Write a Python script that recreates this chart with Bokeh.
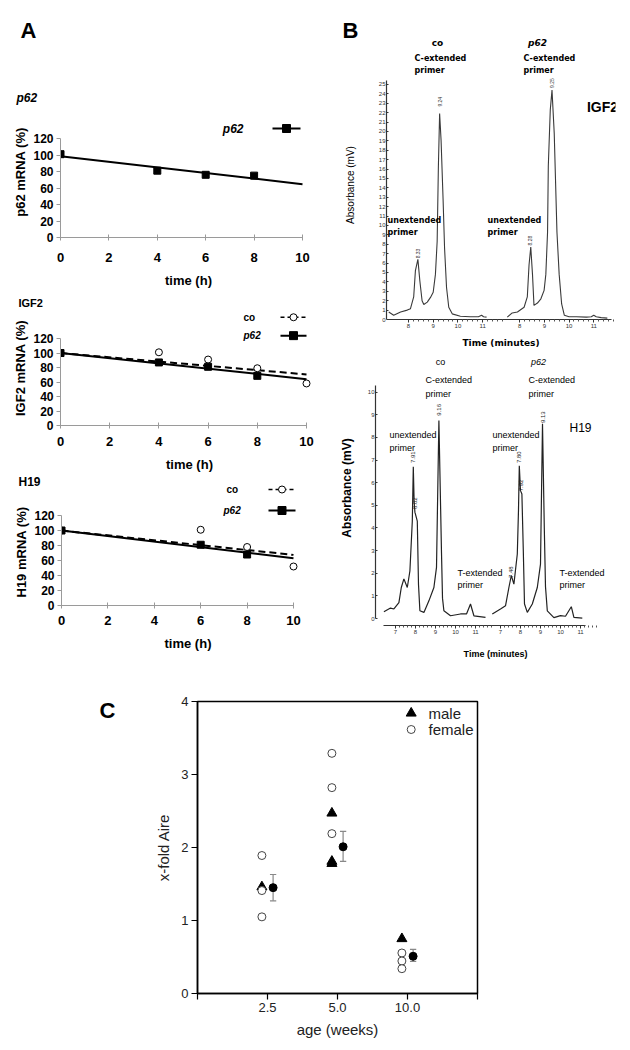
import numpy as np
from math import pi
from bokeh.plotting import figure
from bokeh.models import Range1d, Label, FixedTicker
from bokeh.layouts import column, row
from bokeh.embed import file_html
from bokeh.resources import INLINE

# ---------------- Panel A data (mRNA %, time in h) ----------------
a_time_ticks = [0, 2, 4, 6, 8, 10]
a_pct_ticks = [0, 20, 40, 60, 80, 100, 120]
p62_t = [0, 4, 6, 8]
p62_pct = [101, 81, 76, 75]
igf2_co_t = [0, 4, 6, 8, 10]
igf2_co_pct = [100, 101, 91, 79, 58]
igf2_p62_t = [0, 4, 6, 8]
igf2_p62_pct = [100, 87, 81, 68.5]
h19_co_t = [0, 6, 8, 10]
h19_co_pct = [100, 101, 78, 52]
h19_p62_t = [0, 6, 8]
h19_p62_pct = [100, 81, 68]

# ---------------- Panel B data (chromatograms: minutes, mV) ----------------
igf2_co_min = [7.20, 7.40, 7.68, 7.95, 8.08, 8.21, 8.28, 8.38, 8.46, 8.55, 8.62, 8.76, 8.89, 9.00, 9.09,
               9.16, 9.21, 9.26, 9.32, 9.40, 9.46, 9.54, 9.63, 9.77, 10.1, 10.5, 10.83, 10.96, 11.04, 11.16]
igf2_co_mv = [0.8, 0.45, 0.8, 1.0, 1.15, 2.4, 5.2, 6.4, 4.1, 2.0, 1.6, 1.85, 2.35, 2.9, 4.8,
              8.3, 16.3, 21.9, 19.0, 12.8, 7.6, 3.4, 1.3, 0.6, 0.35, 0.3, 0.3, 0.45, 0.3, 0.25]
igf2_p62_min = [7.50, 7.70, 7.91, 8.18, 8.31, 8.38, 8.45, 8.52, 8.58, 8.72, 8.86, 8.99, 9.06, 9.13, 9.16,
                9.24, 9.31, 9.40, 9.51, 9.60, 9.70, 9.81, 10.0, 10.3, 10.7, 10.9, 11.0, 11.1, 11.3, 11.55]
igf2_p62_mv = [0.25, 0.7, 0.8, 1.3, 2.4, 5.8, 7.7, 4.8, 1.5, 1.75, 2.2, 3.1, 4.8, 9.3, 16.3,
               22.3, 24.4, 19.8, 9.3, 4.8, 1.65, 0.45, 0.3, 0.3, 0.25, 0.3, 0.45, 0.3, 0.2, 0.15]
h19_co_min = [6.42, 6.75, 6.92, 7.17, 7.29, 7.42, 7.59, 7.72, 7.84, 7.89, 7.93, 7.97, 8.03, 8.09, 8.15,
              8.22, 8.42, 8.67, 8.92, 9.05, 9.17, 9.30, 9.35, 9.42, 9.75, 10.25, 10.55, 10.75, 10.92, 11.50]
h19_co_mv = [0.3, 0.46, 0.42, 0.7, 1.37, 1.75, 1.37, 2.1, 4.3, 6.7, 5.2, 4.7, 4.5, 4.3, 1.5,
             0.34, 0.27, 0.78, 1.37, 2.26, 8.75, 2.9, 0.9, 0.34, 0.12, 0.2, 0.2, 0.64, 0.12, 0.05]
h19_p62_min = [6.59, 7.00, 7.25, 7.42, 7.54, 7.67, 7.84, 7.90, 7.94, 8.00, 8.07, 8.14, 8.20, 8.34,
               8.59, 8.84, 9.00, 9.10, 9.19, 9.25, 9.34, 9.67, 10.00, 10.25, 10.54, 10.67, 11.09]
h19_p62_mv = [0.2, 0.42, 0.56, 1.37, 1.9, 1.52, 2.85, 4.8, 6.75, 5.65, 5.5, 3.0, 0.64, 0.27,
              0.64, 1.37, 2.4, 8.6, 4.0, 1.4, 0.34, 0.04, 0.13, 0.1, 0.52, 0.05, 0.02]
b_igf2_mv_ticks = list(range(0, 26))
b_h19_mv_ticks = list(range(0, 11))
b_min_ticks_top = [8, 9, 10, 11]
b_min_ticks_bottom = [7, 8, 9, 10, 11]

# ---------------- Panel C data ----------------
ages = ["2.5", "5.0", "10.0"]
male_age_idx = [0, 1, 1, 1, 2]
male_fold = [1.46, 2.47, 1.81, 1.78, 0.75]
female_age_idx = [0, 0, 0, 1, 1, 1, 2, 2, 2]
female_fold = [1.89, 1.41, 1.05, 3.29, 2.82, 2.19, 0.555, 0.445, 0.34]
mean_fold = [1.45, 2.01, 0.51]
mean_lo = [1.27, 1.81, 0.44]
mean_hi = [1.63, 2.22, 0.605]
c_fold_ticks = [0, 1, 2, 3, 4]

SANS = "Liberation Sans"
DJV = "DejaVu Sans"


class Panel:
    """A figure placed at window pixel box (wx, wy, w, h) whose frame spans L..R, T..B."""

    def __init__(self, wx, wy, w, h, L=None, R=None, T=None, B=None, xr=(0, 1), yr=(0, 1), axes=True):
        if not axes:
            L, R, T, B = wx, wx + w, wy, wy + h
        self.L, self.R, self.T, self.B = L, R, T, B
        self.xr, self.yr = xr, yr
        kw = {}
        if not axes:
            kw = dict(x_axis_location=None, y_axis_location=None)
        self.p = figure(width=w, height=h, x_range=Range1d(*xr), y_range=Range1d(*yr),
                        output_backend="svg", toolbar_location=None,
                        min_border_left=L - wx, min_border_right=wx + w - R,
                        min_border_top=T - wy, min_border_bottom=wy + h - B, **kw)
        self.p.frame_align = False
        self.p.grid.visible = False
        self.p.outline_line_color = None
        self.p.background_fill_color = "white"
        self.p.border_fill_color = "white"

    def at(self, px, py):
        x0, x1 = self.xr
        y0, y1 = self.yr
        return (x0 + (px - self.L) * (x1 - x0) / (self.R - self.L),
                y0 + (self.B - py) * (y1 - y0) / (self.B - self.T))

    def lab(self, px, py, text, size, font=SANS, style="normal", align="left",
            baseline="middle", angle=0.0, color="black"):
        x, y = self.at(px, py)
        self.p.add_layout(Label(x=x, y=y, text=text, text_font=font, text_font_size=f"{size}px",
                                text_font_style=style, text_align=align, text_baseline=baseline,
                                angle=angle, text_color=color))


def fit_line(t, y):
    c = np.polyfit(t, y, 1)
    return c[1], c[0]


def fit_from_start(t, y):
    t = np.asarray(t, float)
    y = np.asarray(y, float)
    s = np.sum(t * (y - y[0])) / np.sum(t * t)
    return y[0], s


def style_a(pan, xstand, ylabel, xlab_stand, ylab_stand):
    p = pan.p
    xa, ya = p.xaxis[0], p.yaxis[0]
    xa.ticker = FixedTicker(ticks=a_time_ticks)
    ya.ticker = FixedTicker(ticks=a_pct_ticks)
    xa.bounds = (0, 10)
    ya.bounds = (0, 120)
    for ax in (xa, ya):
        ax.axis_line_color = "#9a9a9a"
        ax.major_tick_line_color = "#9a9a9a"
        ax.minor_tick_line_color = None
        ax.major_label_text_font = SANS
        ax.major_label_text_font_style = "bold"
        ax.major_label_text_color = "black"
        ax.axis_label_text_font = SANS
        ax.axis_label_text_font_style = "bold"
        ax.axis_label_text_color = "black"
    xa.major_tick_in = 3
    xa.major_tick_out = 3
    ya.major_tick_in = 0
    ya.major_tick_out = 4
    xa.major_label_text_font_size = "13px"
    ya.major_label_text_font_size = "12px"
    xa.major_label_standoff = xstand
    ya.major_label_standoff = 3
    xa.axis_label = "time (h)"
    xa.axis_label_text_font_size = "13px"
    xa.axis_label_standoff = xlab_stand
    ya.axis_label = ylabel
    ya.axis_label_text_font_size = "13px"
    ya.axis_label_standoff = ylab_stand


def a_plot(pan, series):
    p = pan.p
    tline = np.array([0.0, 10.0])
    for (t, y, kind, fit) in series:
        a, s = fit(t, y)
        if kind == "co":
            p.line(tline, a + s * tline, line_color="black", line_width=2, line_dash="7 4")
        else:
            p.line(tline, a + s * tline, line_color="black", line_width=2)
    for (t, y, kind, fit) in series:
        if kind == "co":
            p.scatter(t, y, marker="circle", size=7, fill_color="white", line_color="black", line_width=1)
        else:
            p.scatter(t, y, marker="square", size=7, fill_color="black", line_color="black")


def legend_entry(pan, text, style, size, lx, ly, k0, k1, kind, align="left"):
    """Legend row with the label to the left of its key, as in the source figure."""
    p = pan.p
    pan.lab(lx, ly, text, size, font=SANS, style=style, align=align)
    xa, ya = pan.at(k0, ly)
    xb, _ = pan.at(k1, ly)
    xm, _ = pan.at((k0 + k1) / 2, ly)
    if kind == "co":
        p.line([xa, xb], [ya, ya], line_color="black", line_width=1.5, line_dash="4 3")
        p.scatter([xm], [ya], marker="circle", size=7, fill_color="white", line_color="black")
    else:
        p.line([xa, xb], [ya, ya], line_color="black", line_width=2)
        p.scatter([xm], [ya], marker="square", size=8, fill_color="black", line_color="black")


# ---------------- A1: p62 ----------------
A1s = Panel(0, 0, 328, 106, axes=False)
A1s.lab(28, 30, "A", 22, style="bold", align="center")
A1s.lab(16, 97, "p62", 12, style="bold italic")
A1 = Panel(0, 106, 328, 186, 60, 316, 106, 237, (0, 256 / 24.2), (0, 131 / 0.825))
style_a(A1, 12, "p62 mRNA (%)", 8, 2)
a_plot(A1, [(p62_t, p62_pct, "p62", fit_line)])
legend_entry(A1, "p62", "bold italic", 12, 243, 128, 272, 300, "p62", align="right")

# ---------------- A2: IGF2 ----------------
A2s = Panel(0, 292, 328, 18, axes=False)
A2s.lab(18, 302, "IGF2", 11, style="bold")
A2 = Panel(0, 310, 328, 164, 60, 318, 310, 429, (0, 258 / 24.6), (0, 119 / 0.75))
style_a(A2, 8, "IGF2 mRNA (%)", 8, 2)
a_plot(A2, [(igf2_co_t, igf2_co_pct, "co", fit_from_start),
            (igf2_p62_t, igf2_p62_pct, "p62", fit_from_start)])
legend_entry(A2, "co", "bold", 10, 243, 317, 280, 306, "co")
legend_entry(A2, "p62", "bold italic", 10, 243, 336, 280, 306, "p62")

# ---------------- A3: H19 ----------------
A3s = Panel(0, 474, 328, 24, axes=False)
A3s.lab(18, 481, "H19", 12, style="bold")
legend_entry(A3s, "co", "bold", 10, 226, 489, 268, 295, "co")
A3 = Panel(0, 498, 328, 174, 61, 314, 498, 605, (0, 253 / 23.2), (0, 107 / 0.75))
style_a(A3, 7, "H19 mRNA (%)", 8, 2)
a_plot(A3, [(h19_co_t, h19_co_pct, "co", fit_from_start),
            (h19_p62_t, h19_p62_pct, "p62", fit_from_start)])
legend_entry(A3, "p62", "bold italic", 10, 223, 510, 268, 295, "p62")


def style_b(pan, yticks, ybounds, xticks, xlabels, xbounds, ystand, xstand,
            ylabel, ylab_size, ylab_style, ylab_stand, xlab_font, xlab_size, xlab_stand):
    p = pan.p
    xa, ya = p.xaxis[0], p.yaxis[0]
    ya.ticker = FixedTicker(ticks=yticks)
    ya.bounds = ybounds
    minors = []
    for base in xticks:
        minors += [base + k * 0.2 for k in range(1, 5)]
    xa.ticker = FixedTicker(ticks=xticks, minor_ticks=minors)
    xa.major_label_overrides = xlabels
    xa.bounds = xbounds
    for ax in (xa, ya):
        ax.axis_line_color = "#333333"
        ax.axis_line_width = 1.2
        ax.major_tick_line_color = "#333333"
        ax.major_label_text_font = SANS
        ax.major_label_text_font_size = "6px"
        ax.major_label_text_color = "#333333"
        ax.axis_label_text_color = "black"
    ya.major_tick_in = 2
    ya.major_tick_out = 0
    ya.minor_tick_line_color = None
    ya.major_label_standoff = ystand
    xa.major_tick_in = 0
    xa.major_tick_out = 3
    xa.minor_tick_in = 0
    xa.minor_tick_out = 2
    xa.minor_tick_line_color = "#555555"
    xa.major_label_standoff = xstand
    ya.axis_label = ylabel
    ya.axis_label_text_font = SANS
    ya.axis_label_text_font_size = f"{ylab_size}px"
    ya.axis_label_text_font_style = ylab_style
    ya.axis_label_standoff = ylab_stand
    xa.axis_label = "Time (minutes)"
    xa.axis_label_text_font = xlab_font
    xa.axis_label_text_font_size = f"{xlab_size}px"
    xa.axis_label_text_font_style = "bold"
    xa.axis_label_standoff = xlab_stand


# ---------------- B top: IGF2 ----------------
Bs = Panel(328, 0, 294, 50, axes=False)
Bs.lab(350, 30, "B", 22, style="bold", align="center")
Bs.lab(437, 42, "co", 9, font=DJV, style="bold", align="center")
Bs.lab(537, 42, "p62", 9, font=DJV, style="bold italic", align="center")

OFF_T = 4.5
bx0 = 8 - (408 - 386) / 24.7
Bt = Panel(328, 50, 294, 300, 386, 615, 50, 323, (bx0, bx0 + 229 / 24.7), (0, 273 / 9.54))
top_ticks = b_min_ticks_top + [v + OFF_T for v in b_min_ticks_top]
top_labels = {v: str(v) for v in b_min_ticks_top}
top_labels.update({v + OFF_T: str(v) for v in b_min_ticks_top})
style_b(Bt, b_igf2_mv_ticks, (0, 25.4), top_ticks, top_labels, (bx0 + 0.05, bx0 + 9.1), 1, 1,
        "Absorbance (mV)", 10, "normal", 20, DJV, 9, 7)
Bt.p.line(igf2_co_min, igf2_co_mv, line_color="#3a3a3a", line_width=1.1)
Bt.p.line([v + OFF_T for v in igf2_p62_min], igf2_p62_mv, line_color="#3a3a3a", line_width=1.1)
for lx in (414, 523):
    Bt.lab(lx, 58, "C-extended", 8, font=DJV, style="bold")
    Bt.lab(lx, 70, "primer", 8, font=DJV, style="bold")
for lx in (387, 487):
    Bt.lab(lx, 223, "unextended", 8, font=DJV, style="bold")
    Bt.lab(lx, 235, "primer", 8, font=DJV, style="bold")
Bt.lab(602, 107, "IGF2", 14, style="bold", align="center")
for (txt, px, py) in [("8.33", 417.7, 256), ("9.24", 439, 102), ("8.28", 529.3, 243), ("9.25", 551, 83)]:
    Bt.lab(px, py, txt, 5, align="center", angle=pi / 2, color="#333333")

# ---------------- B bottom: H19 ----------------
OFF_B = 5.25
Bb = Panel(328, 350, 294, 322, 375, 615, 350, 625, (6.0, 18.0), (-(625 - 618) / 22.63, (618 - 350) / 22.63))
bot_ticks = b_min_ticks_bottom + [v + OFF_B for v in b_min_ticks_bottom]
bot_labels = {v: str(v) for v in b_min_ticks_bottom}
bot_labels.update({v + OFF_B: str(v) for v in b_min_ticks_bottom})
style_b(Bb, b_h19_mv_ticks, (0, 10.3), bot_ticks, bot_labels, (6.4, 16.5), 1, 1,
        "Absorbance (mV)", 12, "bold", 11, SANS, 9, 12)
Bb.p.line(h19_co_min, h19_co_mv, line_color="#222222", line_width=1.2)
Bb.p.line([v + OFF_B for v in h19_p62_min], h19_p62_mv, line_color="#222222", line_width=1.2)
Bb.lab(440, 361, "co", 9, align="center")
Bb.lab(538, 361, "p62", 9, style="italic", align="center")
for lx in (425, 528):
    Bb.lab(lx, 379, "C-extended", 9)
    Bb.lab(lx, 393, "primer", 9)
for lx in (389, 492):
    Bb.lab(lx, 434, "unextended", 9)
    Bb.lab(lx, 447, "primer", 9)
for lx in (457, 559):
    Bb.lab(lx, 572, "T-extended", 9)
    Bb.lab(lx, 584, "primer", 9)
Bb.lab(580, 427, "H19", 12, align="center")
for (txt, px, py) in [("7.91", 412.7, 456.7), ("8.02", 414.3, 502.7), ("9.16", 438.3, 409.3),
                      ("7.80", 518.7, 456.7), ("7.92", 520, 485), ("9.13", 542, 416.7),
                      ("7.48", 510, 571.7)]:
    Bb.lab(px, py, txt, 6, align="center", angle=pi / 2, color="#222222")

# ---------------- C ----------------
Cs = Panel(0, 672, 120, 370, axes=False)
Cs.lab(107, 710, "C", 22, style="bold", align="center")

Cp = Panel(120, 672, 502, 370, 197, 477, 701, 993, (0, 4), (0, 4))
p = Cp.p
p.outline_line_color = "black"
p.outline_line_width = 1.5
xa, ya = p.xaxis[0], p.yaxis[0]
xa.ticker = FixedTicker(ticks=[0, 1, 2, 3, 4])
xa.major_label_overrides = {0: "", 1: ages[0], 2: ages[1], 3: ages[2], 4: ""}
ya.ticker = FixedTicker(ticks=c_fold_ticks)
for ax in (xa, ya):
    ax.axis_line_color = "black"
    ax.axis_line_width = 1.5
    ax.major_tick_line_color = "black"
    ax.major_tick_line_width = 1.2
    ax.minor_tick_line_color = None
    ax.major_tick_in = 0
    ax.major_tick_out = 6
    ax.major_label_text_font = SANS
    ax.major_label_text_font_size = "13px"
    ax.major_label_text_color = "#222222"
    ax.axis_label_text_font = SANS
    ax.axis_label_text_font_size = "15px"
    ax.axis_label_text_font_style = "normal"
    ax.axis_label_text_color = "#222222"
xa.major_label_standoff = 3
ya.major_label_standoff = 3
xa.axis_label = "age (weeks)"
ya.axis_label = "x-fold Aire"
xa.axis_label_standoff = 6
ya.axis_label_standoff = 6

DODGE = 0.08
mx = [i + 1 - DODGE for i in male_age_idx]
fx = [i + 1 - DODGE for i in female_age_idx]
ax_ = [i + 1 + DODGE for i in range(len(ages))]
p.scatter(mx, male_fold, marker="triangle", size=10, fill_color="black", line_color="black")
p.scatter(fx, female_fold, marker="circle", size=8, fill_color="white", line_color="#444444", line_width=1)
p.segment(ax_, mean_lo, ax_, mean_hi, line_color="#888888", line_width=1.2)
CAP = 0.045
p.segment([v - CAP for v in ax_], mean_hi, [v + CAP for v in ax_], mean_hi, line_color="#888888", line_width=1.2)
p.segment([v - CAP for v in ax_], mean_lo, [v + CAP for v in ax_], mean_lo, line_color="#888888", line_width=1.2)
p.scatter(ax_, mean_fold, marker="circle", size=8, fill_color="black", line_color="black")
lx1, ly1 = Cp.at(410.7, 712.7)
lx2, ly2 = Cp.at(410.7, 729)
p.scatter([lx1], [ly1], marker="triangle", size=10, fill_color="black", line_color="black")
p.scatter([lx2], [ly2], marker="circle", size=8, fill_color="white", line_color="#444444")
Cp.lab(428, 712.7, "male", 15, color="#222222")
Cp.lab(428, 729, "female", 15, color="#222222")

layout = column(
    row(column(A1s.p, A1.p, A2s.p, A2.p, A3s.p, A3.p), column(Bs.p, Bt.p, Bb.p)),
    row(Cs.p, Cp.p),
)
open("out.html", "w").write(file_html(layout, INLINE))
